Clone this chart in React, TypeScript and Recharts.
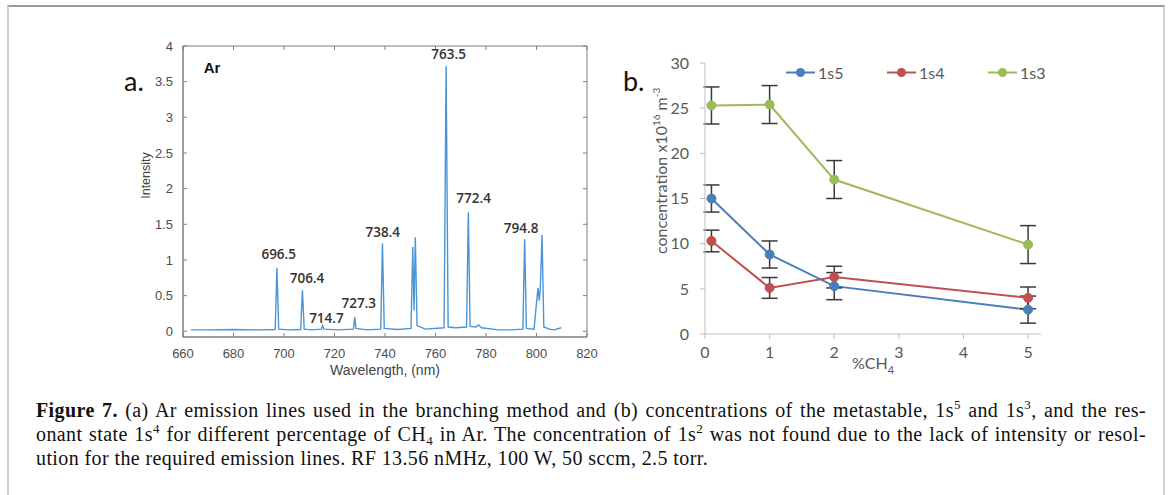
import React from 'react';
import { LineChart, Line, XAxis, YAxis, ReferenceDot, ReferenceArea, ReferenceLine, ErrorBar, Label } from 'recharts';

// panel a: Ar emission spectrum
const wavelength = [
  663.2, 670, 680, 690, 696.5, 697.2, 697.9, 702, 706.6, 707.3, 708.0, 711,
  714.8, 715.3, 715.8, 721, 727.5, 728.0, 728.5, 733, 738.3, 739.0, 739.7, 745,
  750.3, 751.0, 751.5, 752.0, 752.7, 756, 763.4, 764.2, 765.0, 768, 772.3, 773.0,
  773.7, 776, 777, 778.2, 785, 790, 794.6, 795.3, 796.0, 799, 800.6, 801.1,
  801.5, 802.2, 802.9, 805, 807, 809.8
];
const intensity = [
  0.02, 0.02, 0.025, 0.02, 0.025, 0.89, 0.03, 0.02, 0.025, 0.575, 0.03, 0.02,
  0.03, 0.08, 0.03, 0.02, 0.03, 0.2, 0.04, 0.02, 0.03, 1.23, 0.04, 0.025,
  0.04, 1.18, 0.29, 1.32, 0.08, 0.03, 0.05, 3.72, 0.06, 0.05, 0.06, 1.67,
  0.07, 0.06, 0.09, 0.05, 0.02, 0.02, 0.03, 1.29, 0.04, 0.03, 0.61, 0.43,
  0.6, 1.35, 0.06, 0.03, 0.02, 0.05
];
const peakNames = ['696.5', '706.4', '714.7', '727.3', '738.4', '763.5', '772.4', '794.8'];
const peakNameX = [697.9, 709.1, 716.8, 729.6, 739.1, 765.2, 775.1, 793.9];
const peakNameY = [1.08, 0.74, 0.19, 0.39, 1.39, 3.88, 1.86, 1.44];
const xTicksA = [660, 680, 700, 720, 740, 760, 780, 800, 820];
const yTicksA = [0, 0.5, 1, 1.5, 2, 2.5, 3, 3.5, 4];
const xDomA = [660, 820];
const yDomA = [-0.08, 4];

// panel b: concentrations x10^16 m^-3
const ch4 = [0.1, 1, 2, 5];
const s5 = [15.0, 8.8, 5.3, 2.7];
const s4 = [10.3, 5.1, 6.3, 4.0];
const s3 = [25.3, 25.4, 17.1, 9.9];
const s5Err = [1.5, 1.5, 1.5, 1.5];
const s4Err = [1.2, 1.15, 1.2, 1.2];
const s3Err = [2.05, 2.1, 2.1, 2.1];
const xTicksB = [0, 1, 2, 3, 4, 5];
const yTicksB = [0, 5, 10, 15, 20, 25, 30];

const seriesB = [
  { key: 's5', name: '1s5', color: '#4a7ebb' },
  { key: 's4', name: '1s4', color: '#c0504d' },
  { key: 's3', name: '1s3', color: '#9bbb59' }
];

const spectrum = wavelength.map((w, i) => ({ w, v: intensity[i] }));
const concData = ch4.map((x, i) => ({
  x,
  s5: s5[i],
  s4: s4[i],
  s3: s3[i],
  s5e: s5Err[i],
  s4e: s4Err[i],
  s3e: s3Err[i]
}));

const boxColor = '#7f7f7f';
const tickFont = { fill: '#4d4d4d', fontSize: 13, fontFamily: 'Liberation Sans' };
const tickB = { fill: '#595959', fontSize: 16, fontFamily: 'Lato' };
const excelAxis = '#bfbfbf';
// inward tick length, in data units of panel a (about 4 px)
const tickLenY = 0.056;
const tickLenX = 1.6;

function SpectrumPanel() {
  return (
    <div style={{ position: 'absolute', left: 100, top: 30 }}>
      <LineChart width={520} height={350} data={spectrum} margin={{ top: 16, right: 33, bottom: 18, left: 53 }}>
        <XAxis
          dataKey="w"
          type="number"
          domain={xDomA}
          ticks={xTicksA}
          tickSize={0}
          tickLine={false}
          tickMargin={12}
          height={25}
          stroke={boxColor}
          tick={tickFont}
          label={
            <Label
              content={(p: any) => {
                const vb = p.viewBox;
                return (
                  <text x={vb.x + vb.width / 2} y={vb.y + vb.height + 8} dy="0.35em" textAnchor="middle" fill="#444" fontSize={14} fontFamily="Liberation Sans">
                    Wavelength, (nm)
                  </text>
                );
              }}
            />
          }
        />
        <YAxis
          type="number"
          domain={yDomA}
          ticks={yTicksA}
          tickSize={0}
          tickLine={false}
          tickMargin={10}
          width={30}
          stroke={boxColor}
          tick={tickFont}
          label={
            <Label
              content={(p: any) => {
                const vb = p.viewBox;
                const cx = vb.x - 7.7;
                const cy = vb.y + vb.height / 2 - 16;
                return (
                  <text x={cx} y={cy} dy="0.35em" textAnchor="middle" transform={`rotate(-90 ${cx} ${cy})`} fill="#444" fontSize={12.5} fontFamily="Liberation Sans">
                    Intensity
                  </text>
                );
              }}
            />
          }
        />
        <ReferenceArea x1={xDomA[0]} x2={xDomA[1]} y1={yDomA[0]} y2={yDomA[1]} fill="none" stroke={boxColor} strokeWidth={1} ifOverflow="visible" />
        {xTicksA.map((t) => (
          <ReferenceLine key={'xb' + t} segment={[{ x: t, y: yDomA[0] }, { x: t, y: yDomA[0] + tickLenY }]} stroke={boxColor} ifOverflow="visible" />
        ))}
        {xTicksA.map((t) => (
          <ReferenceLine key={'xt' + t} segment={[{ x: t, y: yDomA[1] }, { x: t, y: yDomA[1] - tickLenY }]} stroke={boxColor} ifOverflow="visible" />
        ))}
        {yTicksA.map((t) => (
          <ReferenceLine key={'yl' + t} segment={[{ x: xDomA[0], y: t }, { x: xDomA[0] + tickLenX, y: t }]} stroke={boxColor} ifOverflow="visible" />
        ))}
        {yTicksA.map((t) => (
          <ReferenceLine key={'yr' + t} segment={[{ x: xDomA[1], y: t }, { x: xDomA[1] - tickLenX, y: t }]} stroke={boxColor} ifOverflow="visible" />
        ))}
        <Line dataKey="v" type="linear" stroke="#4a95d8" strokeWidth={1.4} dot={false} isAnimationActive={false} />
        {peakNames.map((name, i) => (
          <ReferenceDot
            key={name}
            x={peakNameX[i]}
            y={peakNameY[i]}
            r={0}
            stroke="none"
            fill="none"
            label={{ value: name, position: 'center', fill: '#333', fontSize: 13.5, fontWeight: 600, fontFamily: 'Open Sans' }}
          />
        ))}
        <ReferenceDot
          x={671.5}
          y={3.69}
          r={0}
          stroke="none"
          fill="none"
          label={{ value: 'Ar', position: 'center', fill: '#111', fontSize: 15, fontWeight: 700, fontFamily: 'Liberation Sans' }}
        />
      </LineChart>
    </div>
  );
}

function ConcentrationPanel() {
  return (
    <div style={{ position: 'absolute', left: 620, top: 30 }}>
      <LineChart width={440} height={350} data={concData} margin={{ top: 33, right: 19, bottom: 16, left: 50 }}>
        <XAxis
          dataKey="x"
          type="number"
          domain={[0, 5.2]}
          ticks={xTicksB}
          tickSize={5}
          tickMargin={8}
          height={30}
          stroke={excelAxis}
          tick={tickB}
          label={
            <Label
              content={(p: any) => {
                const vb = p.viewBox;
                return (
                  <text x={vb.x + vb.width / 2} y={vb.y + 29} dy="0.35em" textAnchor="middle" fill="#595959" fontSize={16} fontFamily="Lato">
                    %CH
                    <tspan fontSize={11} dy={5}>4</tspan>
                  </text>
                );
              }}
            />
          }
        />
        <YAxis
          type="number"
          domain={[0, 30]}
          ticks={yTicksB}
          tickSize={5}
          tickMargin={11}
          width={35}
          stroke={excelAxis}
          tick={tickB}
          label={
            <Label
              content={(p: any) => {
                const vb = p.viewBox;
                const cx = vb.x - 8.3;
                const cy = vb.y + vb.height / 2 - 27.6;
                return (
                  <text x={cx} y={cy} dy="0.35em" textAnchor="middle" transform={`rotate(-90 ${cx} ${cy})`} fill="#595959" fontSize={16} fontFamily="Lato">
                    concentration x10
                    <tspan fontSize={10} dy={-7}>16</tspan>
                    <tspan dy={7}> m</tspan>
                    <tspan fontSize={10} dy={-7}>-3</tspan>
                  </text>
                );
              }}
            />
          }
        />
        {seriesB.map((s) => (
          <Line
            key={s.key}
            dataKey={s.key}
            type="linear"
            stroke={s.color}
            strokeWidth={2}
            dot={{ r: 4.5, fill: s.color, stroke: s.color, strokeWidth: 1 }}
            activeDot={false}
            isAnimationActive={false}
          >
            <ErrorBar dataKey={s.key + 'e'} width={8} stroke="#3a3a3a" strokeWidth={1.5} isAnimationActive={false} />
          </Line>
        ))}
      </LineChart>
    </div>
  );
}

function LegendB() {
  return (
    <div style={{ position: 'absolute', left: 785, top: 62, display: 'flex', fontFamily: 'Lato', fontSize: 16, color: '#595959' }}>
      {seriesB.map((s) => (
        <div key={s.key} style={{ width: 101, display: 'flex', alignItems: 'center', height: 21 }}>
          <svg width={31} height={21}>
            <line x1={1} y1={10.5} x2={30} y2={10.5} stroke={s.color} strokeWidth={2} />
            <circle cx={15.5} cy={10.5} r={4.5} fill={s.color} />
          </svg>
          <span style={{ marginLeft: 2 }}>{s.name}</span>
        </div>
      ))}
    </div>
  );
}

const supStyle: React.CSSProperties = { fontSize: 13, position: 'relative', top: -8, lineHeight: 0 };
const subStyle: React.CSSProperties = { fontSize: 13, position: 'relative', top: 4, lineHeight: 0 };
const lineJust: React.CSSProperties = { textAlign: 'justify', textAlignLast: 'justify', whiteSpace: 'nowrap' };

function Caption() {
  return (
    <div
      style={{
        position: 'absolute',
        left: 36,
        top: 398,
        width: 1110,
        fontFamily: 'Liberation Serif',
        fontSize: 20,
        letterSpacing: 0.4,
        lineHeight: '24px',
        color: '#111'
      }}
    >
      <div style={lineJust}>
        <b>Figure 7.</b> (a) Ar emission lines used in the branching method and (b) concentrations of the metastable, 1s
        <span style={supStyle}>5</span> and 1s<span style={supStyle}>3</span>, and the res-
      </div>
      <div style={lineJust}>
        onant state 1s<span style={supStyle}>4</span> for different percentage of CH<span style={subStyle}>4</span> in Ar. The concentration of 1s
        <span style={supStyle}>2</span> was not found due to the lack of intensity or resol-
      </div>
      <div>ution for the required emission lines. RF 13.56 nMHz, 100 W, 50 sccm, 2.5 torr.</div>
    </div>
  );
}

export default function App() {
  return (
    <div style={{ position: 'absolute', left: 0, top: 0, width: 1168, height: 495, overflow: 'hidden', background: '#fff' }}>
      <div
        style={{
          position: 'absolute',
          left: 7,
          top: 5,
          width: 1158,
          height: 520,
          boxSizing: 'border-box',
          borderTop: '2px solid #9a9a9a',
          borderLeft: '2px solid #cfcfcf',
          borderRight: '2px solid #cfcfcf'
        }}
      />
      <SpectrumPanel />
      <ConcentrationPanel />
      <LegendB />
      <div style={{ position: 'absolute', left: 124, top: 64, fontFamily: 'Lato', fontSize: 27, color: '#111', lineHeight: '34px' }}>a.</div>
      <div style={{ position: 'absolute', left: 623, top: 64, fontFamily: 'Lato', fontSize: 27, color: '#111', lineHeight: '34px' }}>b.</div>
      <Caption />
    </div>
  );
}
